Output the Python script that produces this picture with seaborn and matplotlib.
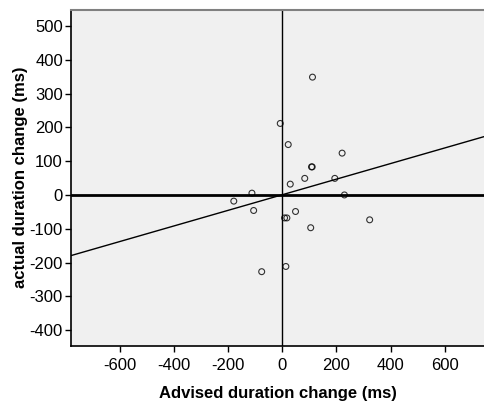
import matplotlib
matplotlib.use("Agg")
import matplotlib.pyplot as plt
import seaborn as sns
import pandas as pd

advised = [111.6, -7.4, 22, 221, 108, 110.5, 83, 194, 29.5, -112, 229.5, -179,
           -105.7, 49, 8.5, 17, 322.7, 105, 13.3, -76]
actual = [348.5, 211.5, 149, 123.7, 83, 83, 49, 49, 32, 5.3, 0, -18.3,
          -46, -49, -68, -68, -73.6, -97, -211.6, -227]
xticks = [-600, -400, -200, 0, 200, 400, 600]
yticks = [-400, -300, -200, -100, 0, 100, 200, 300, 400, 500]

df = pd.DataFrame({"advised": advised, "actual": actual})

sns.set_theme(style="white")
plt.rcParams["font.family"] = ["Liberation Sans", "DejaVu Sans"]
plt.rcParams["axes.unicode_minus"] = False
plt.rcParams["text.color"] = "black"
plt.rcParams["axes.labelcolor"] = "black"

fig = plt.figure(figsize=(4.85, 4.04), dpi=100)
ax = fig.add_axes([0.147, 0.1443, 0.851, 0.8317])
ax.set_facecolor("#F0F0F0")

ax.set_xlim(-779, 745)
ax.set_ylim(-446, 548)

ax.axhline(0, color="black", lw=2, zorder=1)
ax.axvline(0, color="black", lw=1, zorder=1)

sns.regplot(data=df, x="advised", y="actual", ax=ax, ci=None, truncate=False,
            scatter_kws=dict(s=18, facecolors="none", edgecolors="black", linewidths=0.8, zorder=3),
            line_kws=dict(color="black", lw=1, zorder=2))

ax.set_xticks(xticks)
ax.set_yticks(yticks)
ax.tick_params(axis="both", direction="out", length=4, width=1, color="black",
               labelsize=12, labelcolor="black", bottom=True, left=True, pad=2)
ax.tick_params(axis="x", pad=5)
ax.set_xlabel("Advised duration change (ms)", fontsize=12, fontweight="bold", labelpad=9, color="black")
ax.set_ylabel("actual duration change (ms)", fontsize=12, fontweight="bold", labelpad=1, color="black")

for s in ["left", "bottom"]:
    ax.spines[s].set_color("black")
    ax.spines[s].set_linewidth(1.2)
ax.spines["top"].set_color("#808080")
ax.spines["top"].set_linewidth(1.5)
ax.spines["right"].set_visible(False)

fig.savefig("out.png", dpi=100)
